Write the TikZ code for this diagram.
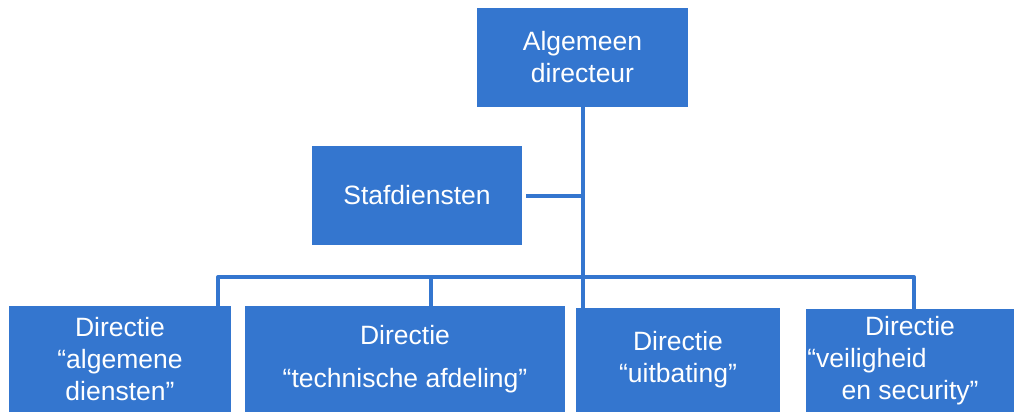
\documentclass[tikz,border=0pt]{standalone}
\usepackage{fontspec}
\setmainfont{Liberation Sans}
\usepackage{xcolor}
\usepackage{tikz}
\definecolor{orgblauw}{HTML}{3476CF}
\tikzset{
  org_b/.style = {rectangle, fill=orgblauw, draw=none, text=white, align=center,
    inner sep=0pt, font=\fontsize{26.5}{32}\selectfont},% organigram, blok
  org_l/.style = {draw=orgblauw, line width=4pt, line join=round}% organigram, lijn
}

\begin{document}
\begin{tikzpicture}[x=1pt,y=-1pt]
\useasboundingbox (0,0) rectangle (1014,412);
\node [org_b, minimum width=211pt, minimum height=99pt] (dir) at (582.5,57.5)
  {Algemeen\\directeur};
\node [org_b, minimum width=210pt, minimum height=99pt] (staf) at (417,195.5)
  {Stafdiensten};
\node [org_b, minimum width=222pt, minimum height=106pt] (d1) at (120,359)
  {Directie\\“algemene\\diensten”};
\node [org_b, minimum width=320pt, minimum height=106pt] (d2) at (405,359)
  {Directie\\[11pt]“technische afdeling”};
\node [org_b, minimum width=204pt, minimum height=104pt] (d3) at (678,360)
  {Directie\\“uitbating”};
\node [org_b, minimum width=208pt, minimum height=103pt] (d4) at (910,360.5)
  {Directie\\“veiligheid\makebox[86pt]{}\\en security”};
% verbindingen
\coordinate (b1) at (218,277);
\coordinate (b2) at (431,277);
\coordinate (b4) at (914,277);
\draw [org_l] (dir.south) -- (dir.south |- d3.north);
\draw [org_l, shorten <=4pt] (staf.east) -- (staf.east -| dir.south);
\draw [org_l] (d1.north -| b1) -- (b1) -- (b4) -- (b4 |- d4.north);
\draw [org_l] (b2) -- (b2 |- d2.north);
\end{tikzpicture}
\end{document}
